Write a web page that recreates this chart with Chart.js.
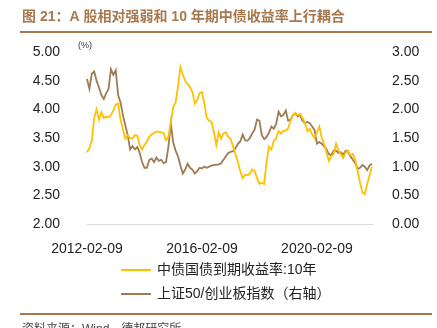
<!DOCTYPE html>
<html lang="zh">
<head>
<meta charset="UTF-8">
<title>A股相对强弱和10年期中债收益率</title>
<script src="https://cdn.jsdelivr.net/npm/chart.js"></script>
<style>
  html, body { margin: 0; padding: 0; background: #fff; }
</style>
</head>
<body>
<canvas id="yieldChart" width="437" height="328"></canvas>
<script>
  const titleText = '图 21：A 股相对强弱和 10 年期中债收益率上行耦合';
  const sourceText = '资料来源：Wind，德邦研究所';
  const seriesNames = ['中债国债到期收益率:10年', '上证50/创业板指数（右轴）'];
  const tickDates = ['2012-02-09', '2016-02-09', '2020-02-09'];

  // monthly points, first one on 2012-02-09
  const yield10y = [
    3.25, 3.32, 3.45, 3.85, 4.00, 3.82, 3.95, 3.85, 3.87, 3.86,
    3.90, 3.98, 4.08, 4.10, 3.82, 3.65, 3.49, 3.55, 3.50, 3.49,
    3.55, 3.54, 3.38, 3.30, 3.38, 3.44, 3.52, 3.56, 3.59, 3.61,
    3.61, 3.60, 3.58, 3.46, 3.52, 3.78, 4.04, 4.12, 4.40, 4.74,
    4.60, 4.50, 4.44, 4.39, 4.30, 4.10, 4.16, 4.28, 4.30, 4.10,
    3.85, 3.80, 3.78, 3.60, 3.38, 3.60, 3.49, 3.58, 3.60, 3.52,
    3.48, 3.35, 3.22, 3.08, 2.92, 2.80, 2.86, 2.85, 2.88, 2.95,
    2.92, 2.80, 2.70, 2.72, 2.70, 3.10, 3.35, 3.30, 3.45, 3.50,
    3.62, 3.58, 3.63, 3.63, 3.67, 3.80, 3.90, 3.94, 3.90, 3.92,
    3.85, 3.76, 3.62, 3.66, 3.56, 3.50, 3.60, 3.70, 3.50, 3.40,
    3.25, 3.10, 3.18, 3.22, 3.40, 3.28, 3.22, 3.15, 3.25, 3.28,
    3.20, 3.22, 3.12, 2.92, 2.72, 2.55, 2.52, 2.70, 2.85, 3.00
  ];
  const sz50ToChinext = [
    2.53, 2.36, 2.62, 2.66, 2.50, 2.38, 2.25, 2.18, 2.28, 2.36,
    2.70, 2.60, 2.68, 2.25, 2.12, 1.90, 1.72, 1.55, 1.30, 1.36,
    1.30, 1.34, 1.24, 1.08, 0.98, 0.98, 1.12, 1.14, 1.08, 1.16,
    1.10, 1.12, 1.06, 1.08, 1.35, 1.75, 1.42, 1.28, 1.18, 1.02,
    0.88, 0.95, 1.05, 0.98, 0.95, 0.88, 0.92, 0.98, 0.97, 1.00,
    0.98, 1.00, 1.02, 1.03, 1.03, 1.04, 1.06, 1.12, 1.18, 1.24,
    1.26, 1.27, 1.32, 1.40, 1.44, 1.56, 1.46, 1.45, 1.50, 1.58,
    1.65, 1.82, 1.80, 1.55, 1.48, 1.52, 1.60, 1.70, 1.66, 1.75,
    1.96, 1.88, 1.90, 1.98, 1.80, 1.82, 1.90, 1.93, 1.88, 1.90,
    1.80, 1.76, 1.78, 1.76, 1.70, 1.64, 1.40, 1.43, 1.40, 1.36,
    1.30, 1.22, 1.20, 1.28, 1.28, 1.24, 1.25, 1.21, 1.28, 1.26,
    1.18, 1.12, 1.06, 0.96, 0.98, 1.03, 1.00, 0.94, 1.02, 1.05
  ];

  const pad2 = n => String(n).padStart(2, '0');
  const dates = yield10y.map((_, i) => {
    const m = 1 + i; // months since 2012-01
    return (2012 + Math.floor(m / 12)) + '-' + pad2(m % 12 + 1) + '-09';
  });

  const FONT = '"Liberation Sans", "Noto Sans CJK SC", sans-serif';
  const brown = '#a07a55';
  const gold = '#ffc000';
  const accent = '#a8784c';

  // title, rules, unit, legend and source note
  const decor = {
    id: 'decor',
    afterDraw(chart) {
      const ctx = chart.ctx;
      ctx.save();
      ctx.textBaseline = 'middle';
      ctx.fillStyle = accent;
      ctx.font = 'bold 14px ' + FONT;
      ctx.fillText(titleText, 22, 17);

      ctx.strokeStyle = accent;
      ctx.lineWidth = 2;
      ctx.beginPath();
      ctx.moveTo(20, 32); ctx.lineTo(432, 32);
      ctx.moveTo(20, 314); ctx.lineTo(432, 314);
      ctx.stroke();

      ctx.fillStyle = '#333';
      ctx.font = '9px ' + FONT;
      ctx.fillText('(%)', 78, 46);

      ctx.font = '14px ' + FONT;
      chart.data.datasets.forEach((ds, i) => {
        const y = 270 + i * 24;
        ctx.strokeStyle = ds.borderColor;
        ctx.lineWidth = 2;
        ctx.beginPath();
        ctx.moveTo(121, y); ctx.lineTo(151, y);
        ctx.stroke();
        ctx.fillStyle = '#222';
        ctx.fillText(ds.label, 157, y);
      });

      ctx.fillStyle = '#444';
      ctx.font = '12px ' + FONT;
      ctx.textBaseline = 'top';
      ctx.fillText(sourceText, 22, 324);
      ctx.restore();
    }
  };

  new Chart(document.getElementById('yieldChart'), {
    type: 'line',
    data: {
      labels: dates,
      datasets: [
        {
          label: seriesNames[0],
          data: yield10y,
          borderColor: gold,
          borderWidth: 1.8,
          pointRadius: 0,
          yAxisID: 'y'
        },
        {
          label: seriesNames[1],
          data: sz50ToChinext,
          borderColor: brown,
          borderWidth: 1.8,
          pointRadius: 0,
          yAxisID: 'y1'
        }
      ]
    },
    options: {
      responsive: false,
      animation: false,
      layout: { padding: { top: 52, left: 0, right: 0, bottom: 0 } },
      plugins: {
        legend: { display: false },
        tooltip: { enabled: false }
      },
      scales: {
        x: {
          grid: { display: false },
          border: { display: true, color: '#d9d9d9', width: 1 },
          ticks: {
            autoSkip: false,
            maxRotation: 0,
            padding: 9,
            color: '#222',
            font: { family: FONT, size: 14 },
            callback(v) {
              const d = this.getLabelForValue(v);
              return tickDates.includes(d) ? d : null;
            }
          },
          afterFit(s) { s.height = 104; }
        },
        y: {
          position: 'left',
          min: 2,
          max: 5,
          grid: { display: false },
          border: { display: false },
          ticks: {
            stepSize: 0.5,
            padding: 19,
            color: '#222',
            font: { family: FONT, size: 14 },
            callback: v => v.toFixed(2)
          },
          afterFit(s) { s.width = 87; }
        },
        y1: {
          position: 'right',
          min: 0,
          max: 3,
          grid: { display: false },
          border: { display: false },
          ticks: {
            stepSize: 0.5,
            padding: 12,
            color: '#222',
            font: { family: FONT, size: 14 },
            callback: v => v.toFixed(2)
          },
          afterFit(s) { s.width = 65; }
        }
      }
    },
    plugins: [decor]
  });
</script>
</body>
</html>
